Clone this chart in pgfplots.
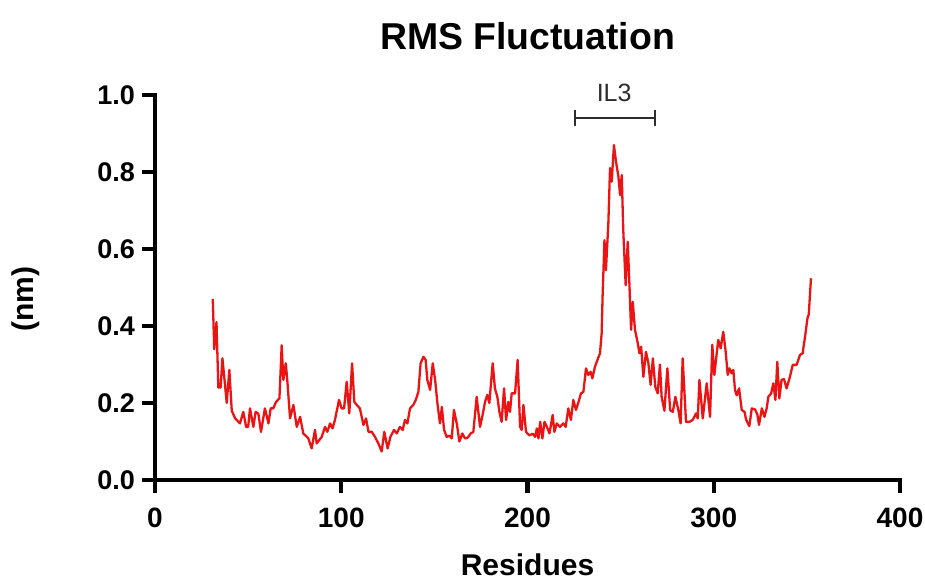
\documentclass[border=0pt]{standalone}
\usepackage{fontspec}
\setmainfont{Liberation Sans}
\setsansfont{Liberation Sans}
\usepackage{pgfplots}
\pgfplotsset{compat=1.18}
\definecolor{rmsred}{RGB}{235,20,20}
\definecolor{annot}{RGB}{45,45,45}
\begin{document}
\begin{tikzpicture}
\begin{axis}[
  scale only axis,
  width=372.5pt, height=192.5pt,
  xmin=0, xmax=400, ymin=0, ymax=1,
  axis lines*=left,
  axis line style={line width=2.2pt, line cap=rect},
  tick align=outside,
  major tick length=6.5pt,
  tick style={line width=2.2pt, black},
  xtick={0,100,200,300,400},
  ytick={0,0.2,0.4,0.6,0.8,1.0},
  minor tick num=0,
  /pgf/number format/assume math mode=true,
  yticklabel style={/pgf/number format/fixed, /pgf/number format/fixed zerofill, /pgf/number format/precision=1, font=\bfseries\fontsize{13.5}{13.5}\selectfont},
  xticklabel style={font=\bfseries\fontsize{14}{14}\selectfont, yshift=-4pt},
  xlabel={Residues},
  ylabel={(nm)},
  title={RMS Fluctuation},
  label style={font=\bfseries\fontsize{15}{15}\selectfont},
  xlabel style={at={(rel axis cs:0.5,-0.2208)}, anchor=center},
  ylabel style={at={(rel axis cs:-0.1732,0.47)}, anchor=center},
  title style={at={(rel axis cs:0.5,1.1558)}, anchor=center, yshift=-6.5pt, font=\bfseries\fontsize{18.7}{18.7}\selectfont},
  clip=false,
]
\addplot[rmsred, line width=1.15pt, line join=round] coordinates {
(31,0.47) (31.8,0.34) (33,0.41) (34,0.24) (35.2,0.24) (36.2,0.316) (38.5,0.20) (39.9,0.286)
(41.2,0.18) (43,0.16) (45.6,0.147) (47.4,0.177) (48.9,0.138) (50,0.138) (51,0.186) (52.8,0.138)
(54,0.177) (55.5,0.172) (56.9,0.125) (59,0.186) (60.9,0.147) (62.1,0.186) (63.5,0.186) (65,0.203)
(66.8,0.212) (68,0.35) (68.9,0.26) (70.2,0.303) (71,0.26) (72.5,0.16) (74.3,0.195) (76.1,0.138)
(77.9,0.164) (79.6,0.121) (82.3,0.108) (84.1,0.082) (85.9,0.13) (86.8,0.095) (89.5,0.112) (91.3,0.138)
(92.5,0.125) (94,0.147) (95.3,0.134) (96.6,0.156) (98.8,0.208) (100.2,0.186) (101.5,0.186) (102.9,0.255)
(104.3,0.173) (105.8,0.303) (107,0.203) (108.3,0.195) (110,0.186) (111.9,0.143) (113.3,0.16) (114.6,0.125)
(116.4,0.125) (118.1,0.112) (119.9,0.095) (121.7,0.074) (123.1,0.125) (124.9,0.082) (126.4,0.112) (128.3,0.13)
(129.8,0.121) (131.5,0.138) (133,0.13) (134.2,0.156) (135.5,0.147) (136.9,0.186) (138.7,0.195) (140,0.208)
(141.4,0.229) (142.6,0.303) (144.1,0.32) (145.3,0.312) (146.2,0.26) (147.7,0.234) (149.1,0.303) (150.4,0.26)
(151.6,0.2) (153,0.147) (154,0.19) (155.2,0.13) (156.6,0.112) (158.1,0.115) (159.3,0.108) (160.5,0.182)
(162,0.147) (163.4,0.10) (165,0.121) (166.4,0.108) (167.9,0.11) (169.5,0.121) (170.9,0.125) (172.7,0.216)
(174.5,0.138) (175.9,0.169) (177.2,0.203) (178.4,0.221) (179.5,0.2) (181.3,0.303) (182.5,0.238) (183.8,0.216)
(184.9,0.177) (186.1,0.151) (187.4,0.238) (188.5,0.156) (189.7,0.203) (190.6,0.177) (191.5,0.225) (193.3,0.225)
(194.7,0.312) (196,0.138) (196.9,0.13) (197.8,0.195) (199.2,0.125) (201,0.116) (202.8,0.12) (204.1,0.112)
(205,0.134) (205.9,0.108) (206.8,0.151) (208,0.108) (209.1,0.151) (210.4,0.138) (211.8,0.121) (213.5,0.169)
(214.4,0.125) (215.7,0.147) (217.4,0.138) (219.2,0.147) (220.5,0.138) (221.9,0.186) (223.3,0.156) (224.6,0.208)
(226,0.182) (227.4,0.203) (228.7,0.225) (230,0.229) (231.4,0.29) (232.6,0.273) (233.9,0.281) (234.8,0.264)
(236.2,0.294) (237.4,0.31) (238.9,0.329) (239.8,0.381) (240.3,0.476) (241.3,0.623) (242.1,0.545) (243.4,0.667)
(244.3,0.81) (245.2,0.775) (246.4,0.87) (247.5,0.827) (248.8,0.788) (249.7,0.74) (250.6,0.792) (251.4,0.649)
(252.7,0.506) (253.8,0.619) (254.7,0.51) (255.6,0.39) (256.5,0.463) (257.7,0.39) (259.2,0.355) (260.1,0.329)
(261,0.346) (262.2,0.268) (263.6,0.333) (264.9,0.303) (266.1,0.247) (267.3,0.316) (268.6,0.242) (269.9,0.225)
(271.1,0.30) (272,0.216) (273.5,0.18) (275.1,0.29) (276.6,0.181) (278,0.177) (279.4,0.216) (281,0.181)
(282.2,0.147) (283.3,0.316) (285.1,0.151) (286.9,0.151) (288.7,0.156) (290.5,0.173) (291.4,0.16) (292.3,0.26)
(294.1,0.16) (296.2,0.251) (298,0.164) (299.2,0.351) (300.3,0.273) (302.4,0.364) (303.7,0.342) (305.1,0.385)
(306.3,0.338) (307.5,0.273) (308.4,0.29) (309.6,0.277) (310.5,0.286) (311.4,0.234) (312.3,0.22) (313.6,0.238)
(315,0.182) (316.5,0.177) (317.4,0.156) (319.1,0.14) (320.4,0.186) (322.2,0.183) (323.4,0.17) (324.3,0.143)
(325.8,0.186) (327.2,0.164) (328.4,0.186) (329.3,0.216) (330.8,0.225) (332,0.251) (333.1,0.208) (334.1,0.307)
(335.2,0.212) (336.4,0.26) (337.7,0.262) (339.1,0.238) (340.9,0.268) (342.4,0.299) (344.5,0.299) (346.3,0.325)
(347.7,0.329) (349,0.372) (350.3,0.42) (351,0.43) (352.2,0.524)
};
\draw[annot, line width=1pt] (axis cs:225.5,0.940) -- (axis cs:268.5,0.940);
\draw[annot, line width=1pt] (axis cs:225.5,0.920) -- (axis cs:225.5,0.960);
\draw[annot, line width=1pt] (axis cs:268.5,0.920) -- (axis cs:268.5,0.960);
\node[annot, font=\fontsize{12.5}{12.5}\selectfont, anchor=center] at (axis cs:246.5,1.005) {IL3};
\coordinate (bbl) at (rel axis cs:-0.2081,-0.25714);
\coordinate (btr) at (rel axis cs:1.03356,1.24675);
\end{axis}
\pgfresetboundingbox
\path[use as bounding box] (bbl) rectangle (btr);
\end{tikzpicture}
\end{document}
